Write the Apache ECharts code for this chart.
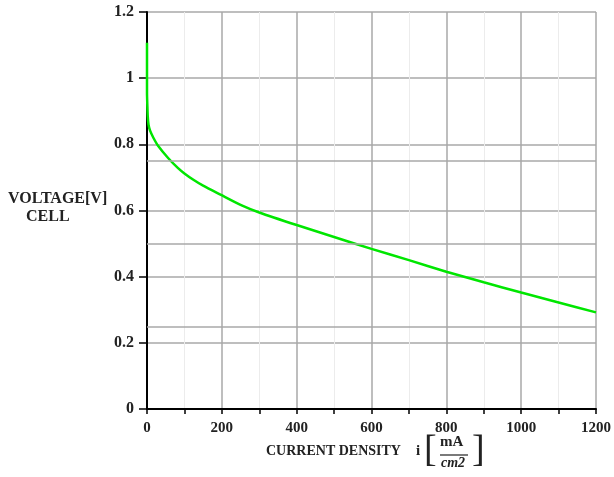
<!DOCTYPE html>
<html>
<head>
<meta charset="utf-8">
<script src="https://cdn.jsdelivr.net/npm/echarts@6/dist/echarts.min.js"></script>
<style>
  html, body { margin: 0; padding: 0; background: #fff; }
  #chart { width: 614px; height: 477px; }
</style>
</head>
<body>
<div id="chart"></div>
<script>
// polarisation curve
var currentDensity = [0, 0, 1, 2, 4, 8, 17, 30, 57, 83, 100, 125, 150, 198, 250, 300, 400, 500, 600, 700, 800, 900, 1000, 1100, 1200];
var cellVoltage = [1.107, 0.955, 0.915, 0.885, 0.86, 0.842, 0.82, 0.795, 0.758, 0.728, 0.712, 0.692, 0.675, 0.647, 0.617, 0.594, 0.556, 0.52, 0.484, 0.45, 0.415, 0.383, 0.352, 0.322, 0.292];
// extra horizontal rules between the ticks
var extraLevels = [0.25, 0.5, 0.75];

var serif = "Liberation Serif";
var chart = echarts.init(document.getElementById("chart"));

var option = {
  animation: false,
  grid: { left: 147, right: 15, top: 12, bottom: 68 },
  xAxis: {
    type: "value",
    min: 0,
    max: 1200,
    interval: 200,
    axisLine: { lineStyle: { color: "#000", width: 2 } },
    axisTick: { show: true, length: 5, lineStyle: { color: "#000", width: 1.5 } },
    minorTick: { show: true, splitNumber: 2, length: 5, lineStyle: { color: "#000", width: 1.5 } },
    splitLine: { show: true, lineStyle: { color: "#a8a8a8", width: 1.5 } },
    minorSplitLine: { show: true, lineStyle: { color: "#ececec", width: 1 } },
    axisLabel: {
      color: "#222", fontFamily: serif, fontWeight: "bold", fontSize: 15, margin: 12,
      formatter: function (v) { return String(v); }
    }
  },
  yAxis: {
    type: "value",
    min: 0,
    max: 1.2,
    interval: 0.2,
    axisLine: { show: true, lineStyle: { color: "#000", width: 2 } },
    axisTick: { show: true, length: 8, lineStyle: { color: "#000", width: 1.5 } },
    splitLine: { show: true, lineStyle: { color: "#a8a8a8", width: 1.5 } },
    axisLabel: { color: "#222", fontFamily: serif, fontWeight: "bold", fontSize: 16, margin: 13 }
  },
  series: [
    {
      type: "line",
      data: currentDensity.map(function (x, i) { return [x, cellVoltage[i]]; }),
      showSymbol: false,
      smooth: 0.2,
      lineStyle: { color: "#00e600", width: 2.5 },
      markLine: {
        silent: true,
        symbol: "none",
        label: { show: false },
        lineStyle: { color: "#a8a8a8", width: 1.5, type: "solid" },
        data: extraLevels.map(function (v) { return { yAxis: v }; })
      },
      z: 3
    }
  ],
  graphic: [
    { type: "text", left: 8, top: 191, style: { text: "VOLTAGE[V]", font: "bold 16px " + serif, fill: "#222" } },
    { type: "text", left: 26, top: 209, style: { text: "CELL", font: "bold 16px " + serif, fill: "#222" } },
    { type: "text", left: 266, top: 444, style: { text: "CURRENT DENSITY", font: "bold 14px " + serif, fill: "#222" } },
    { type: "text", left: 416, top: 444, style: { text: "i", font: "bold 15px " + serif, fill: "#222" } },
    { type: "text", left: 424, top: 432, style: { text: "[", font: "38px " + serif, fill: "#222" } },
    { type: "text", left: 440, top: 435, style: { text: "mA", font: "bold 15px " + serif, fill: "#222" } },
    { type: "line", shape: { x1: 440, y1: 455, x2: 468, y2: 455 }, style: { stroke: "#222", lineWidth: 1.2 } },
    { type: "text", left: 441, top: 456, style: { text: "cm2", font: "italic bold 14px " + serif, fill: "#222" } },
    { type: "text", left: 472, top: 432, style: { text: "]", font: "38px " + serif, fill: "#222" } }
  ]
};

chart.setOption(option);
</script>
</body>
</html>
